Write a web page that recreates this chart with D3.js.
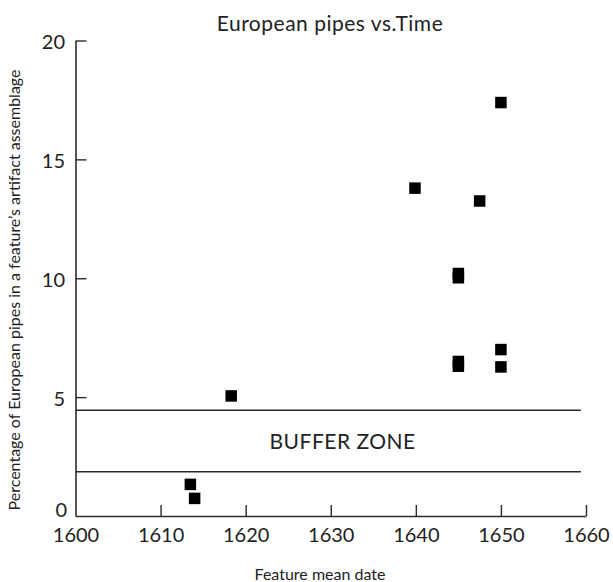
<!DOCTYPE html>
<html>
<head>
<meta charset="utf-8">
<script src="https://cdn.jsdelivr.net/npm/d3@7"></script>
<style>
  html, body { margin: 0; padding: 0; background: #fff; }
  svg text { font-family: Lato, "Open Sans", sans-serif; fill: #222; }
</style>
</head>
<body>
<svg id="chart" width="613" height="582"></svg>
<script>
// Feature mean date (year) and share of European pipes (%) per feature
const years    = [1613.5, 1614.0, 1618.3, 1639.9, 1645.0, 1645.0, 1645.0, 1645.0, 1647.5, 1650.0, 1650.0, 1650.0];
const percents = [1.33,   0.74,   5.05,   13.79,  10.2,   10.02,  6.5,    6.3,    13.25,  17.39,  7.0,    6.27];

// Buffer zone limits (%)
const bufferLimits = [1.86, 4.45];

const xTicks = [1600, 1610, 1620, 1630, 1640, 1650, 1660];
const yTicks = [0, 5, 10, 15, 20];

const titleText = "European pipes vs.Time";
const xLabelText = "Feature mean date";
const yLabelText = "Percentage of European pipes in a feature\u2019s artifact assemblage";
const bufferText = "BUFFER ZONE";

const svg = d3.select("#chart");
const plotLeft = 75.5, plotRight = 586, plotTop = 40.5, plotBottom = 516;

const x = d3.scaleLinear().domain([1600, 1660]).range([plotLeft, plotRight]);
const y = d3.scaleLinear().domain([0, 20]).range([plotBottom, plotTop]);

const axisColor = "#2a2a2a";

// X axis with inward ticks
const xAxis = svg.append("g")
  .attr("transform", `translate(0,${plotBottom})`)
  .call(d3.axisBottom(x).tickValues(xTicks).tickFormat(d3.format("d"))
        .tickSizeInner(-11).tickSizeOuter(0));
xAxis.select(".domain").attr("stroke", axisColor).attr("stroke-width", 1.6);
xAxis.selectAll(".tick line").attr("stroke", axisColor).attr("stroke-width", 1.4)
  .filter(d => d === 1600).remove();
xAxis.selectAll(".tick text")
  .attr("y", 25.5).attr("dy", 0)
  .style("font-size", "20px").style("fill", "#222");

// Y axis with inward ticks
const yAxis = svg.append("g")
  .attr("transform", `translate(${plotLeft},0)`)
  .call(d3.axisLeft(y).tickValues(yTicks).tickFormat(d3.format("d"))
        .tickSizeInner(-11).tickSizeOuter(0));
yAxis.select(".domain").attr("stroke", axisColor).attr("stroke-width", 1.6);
yAxis.selectAll(".tick line").attr("stroke", axisColor).attr("stroke-width", 1.4)
  .filter(d => d === 0).remove();
yAxis.selectAll(".tick text")
  .attr("x", -10.5).attr("dy", "0.42em")
  .style("font-size", "20px").style("fill", "#222");
// the zero label sits just above the 1600 label in the corner
yAxis.selectAll(".tick text").filter(d => d === 0)
  .attr("x", -8.5).attr("dy", "0.02em");

// Buffer zone boundaries
svg.append("g").selectAll("line")
  .data(bufferLimits)
  .join("line")
  .attr("x1", x(1600)).attr("x2", x(1659.4))
  .attr("y1", d => y(d)).attr("y2", d => y(d))
  .attr("stroke", axisColor).attr("stroke-width", 1.6);

svg.append("text")
  .attr("x", x(1631.4))
  .attr("y", y(d3.mean(bufferLimits)))
  .attr("dy", "0.36em")
  .attr("text-anchor", "middle")
  .style("font-size", "21px")
  .style("letter-spacing", "0.5px")
  .text(bufferText);

// Data points as filled squares
const sq = 11.5;
svg.append("g").selectAll("rect")
  .data(years.map((yr, i) => ({ yr, pct: percents[i] })))
  .join("rect")
  .attr("x", d => x(d.yr) - sq / 2)
  .attr("y", d => y(d.pct) - sq / 2)
  .attr("width", sq).attr("height", sq)
  .attr("fill", "#000");

// Titles
svg.append("text")
  .attr("x", 330).attr("y", 31)
  .attr("text-anchor", "middle")
  .style("font-size", "21px")
  .style("letter-spacing", "0.5px")
  .text(titleText);

svg.append("text")
  .attr("x", 320).attr("y", 580)
  .attr("text-anchor", "middle")
  .style("font-size", "16px")
  .text(xLabelText);

svg.append("text")
  .attr("transform", "translate(20,290) rotate(-90)")
  .attr("text-anchor", "middle")
  .style("font-size", "16px")
  .text(yLabelText);
</script>
</body>
</html>
